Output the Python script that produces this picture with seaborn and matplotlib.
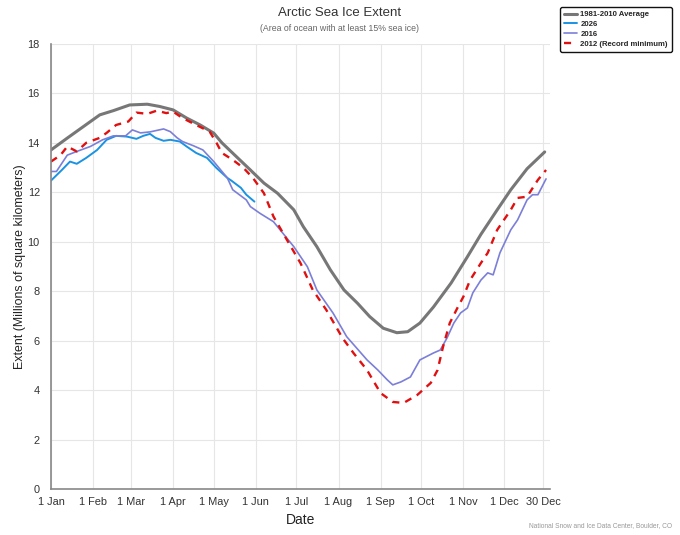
import matplotlib
matplotlib.use("Agg")
import matplotlib.pyplot as plt
import seaborn as sns
import pandas as pd

# ---- data (day of year, extent in million km^2) ----
avg_days = [0, 12, 24, 36, 46, 58, 71, 80, 90, 100, 110, 120, 126, 134, 147, 157, 167, 179, 186, 196, 206, 216, 226, 235, 245, 255, 263, 272, 282, 295, 307, 317, 329, 339, 351, 364]
avg_vals = [13.71, 14.19, 14.66, 15.13, 15.3, 15.53, 15.56, 15.47, 15.33, 15.0, 14.72, 14.39, 14.0, 13.58, 12.9, 12.37, 11.96, 11.29, 10.61, 9.8, 8.86, 8.05, 7.51, 6.97, 6.5, 6.32, 6.36, 6.71, 7.36, 8.33, 9.39, 10.3, 11.29, 12.1, 12.95, 13.63]

y2026_days = [0, 8, 14, 19, 26, 34, 41, 48, 56, 63, 68, 73, 77, 83, 88, 95, 100, 107, 115, 122, 130, 133, 140, 144, 150]
y2026_vals = [12.47, 12.9, 13.24, 13.15, 13.39, 13.71, 14.12, 14.28, 14.25, 14.16, 14.28, 14.36, 14.2, 14.08, 14.12, 14.05, 13.85, 13.59, 13.39, 12.98, 12.58, 12.47, 12.18, 11.9, 11.62]

y2016_days = [0, 4, 12, 19, 29, 38, 46, 55, 60, 66, 73, 83, 88, 93, 97, 105, 112, 120, 130, 134, 144, 147, 154, 164, 171, 179, 189, 196, 208, 218, 233, 241, 248, 252, 258, 265, 272, 282, 287, 292, 297, 302, 307, 311, 317, 322, 326, 331, 339, 344, 351, 355, 359, 365]
y2016_vals = [12.84, 12.84, 13.5, 13.65, 13.85, 14.12, 14.28, 14.28, 14.52, 14.4, 14.44, 14.56, 14.45, 14.2, 14.05, 13.88, 13.71, 13.24, 12.58, 12.1, 11.69, 11.42, 11.15, 10.81, 10.34, 9.8, 8.99, 8.05, 7.11, 6.16, 5.22, 4.81, 4.41, 4.21, 4.33, 4.53, 5.22, 5.5, 5.62, 6.11, 6.71, 7.12, 7.32, 7.93, 8.45, 8.74, 8.66, 9.55, 10.48, 10.88, 11.69, 11.9, 11.9, 12.54]

y2012_days = [0, 7, 12, 19, 26, 36, 41, 48, 57, 63, 71, 78, 85, 90, 97, 107, 117, 122, 126, 134, 142, 149, 157, 164, 174, 184, 193, 203, 215, 223, 233, 243, 252, 260, 270, 280, 285, 289, 294, 300, 304, 309, 317, 322, 329, 339, 344, 351, 359, 365]
y2012_vals = [13.24, 13.5, 13.85, 13.65, 14.0, 14.2, 14.4, 14.72, 14.86, 15.22, 15.17, 15.3, 15.2, 15.26, 15.0, 14.72, 14.45, 14.0, 13.59, 13.31, 12.98, 12.57, 11.96, 11.02, 10.07, 9.13, 8.05, 7.24, 6.1, 5.5, 4.81, 3.88, 3.52, 3.48, 3.8, 4.29, 4.81, 5.74, 6.71, 7.36, 7.77, 8.45, 9.14, 9.55, 10.48, 11.29, 11.77, 11.82, 12.5, 12.9]

tick_days = [0, 31, 59, 90, 120, 151, 181, 212, 243, 273, 304, 334, 363]
tick_labels = ["1 Jan", "1 Feb", "1 Mar", "1 Apr", "1 May", "1 Jun", "1 Jul",
               "1 Aug", "1 Sep", "1 Oct", "1 Nov", "1 Dec", "30 Dec"]
series_names = ["1981-2010 Average", "2026", "2016", "2012 (Record minimum)"]

sns.set_style("white")
plt.rcParams['font.family'] = ['Liberation Sans', 'DejaVu Sans']

fig = plt.figure(figsize=(6.8, 5.35), dpi=100)
ax = fig.add_axes([0.075, 0.086, 0.734, 0.832])

styles = [
    (avg_days, avg_vals, "#777777", 2.2, "-"),
    (y2026_days, y2026_vals, "#1a93e3", 1.4, "-"),
    (y2016_days, y2016_vals, "#7b7fd8", 1.2, "-"),
    (y2012_days, y2012_vals, "#e01010", 1.7, (0, (3.0, 2.6))),
]
for name, (d, v, c, lw, ls) in zip(series_names, styles):
    df = pd.DataFrame({"day": d, "extent": v})
    sns.lineplot(data=df, x="day", y="extent", ax=ax, color=c, linewidth=lw,
                 linestyle=ls, sort=False, label=name, legend=False)
for ln in ax.get_lines():
    ln.set_solid_joinstyle("round")
    ln.set_solid_capstyle("round")

ax.set_xlim(0, 368)
ax.set_ylim(0, 18)
ax.set_xticks(tick_days)
ax.set_xticklabels(tick_labels)
ax.set_yticks(range(0, 19, 2))
ax.grid(True, color="#e6e6e6", linewidth=0.8)
ax.set_axisbelow(True)
for s in ["top", "right"]:
    ax.spines[s].set_visible(False)
for s in ["left", "bottom"]:
    ax.spines[s].set_color("#888888")
    ax.spines[s].set_linewidth(1.2)
ax.tick_params(axis="x", length=4, color="#dddddd", labelsize=7.9, labelcolor="#333333", pad=2)
ax.tick_params(axis="y", length=0, labelsize=7.9, labelcolor="#333333", pad=8)
ax.set_xlabel("Date", fontsize=10, color="#222222", labelpad=4)
ax.set_ylabel("Extent (Millions of square kilometers)", fontsize=8.9, color="#222222", labelpad=1)

fig.text(0.5, 0.975, "Arctic Sea Ice Extent", ha="center", va="center", fontsize=9.5, color="#333333")
fig.text(0.5, 0.947, "(Area of ocean with at least 15% sea ice)", ha="center", va="center", fontsize=6.3, color="#666666")
fig.text(0.988, 0.012, "National Snow and Ice Data Center, Boulder, CO", ha="right", va="bottom", fontsize=4.8, color="#999999")

handles, labels = ax.get_legend_handles_labels()
leg = fig.legend(handles, labels, loc="upper right", bbox_to_anchor=(0.988, 0.987),
                 borderaxespad=0,
                 prop={"size": 5.6, "weight": "bold"}, frameon=True, fancybox=True,
                 edgecolor="#111111", framealpha=1, handlelength=1.6, handletextpad=0.5,
                 labelspacing=0.3, borderpad=0.5)
leg.get_frame().set_linewidth(1.0)

fig.savefig("out.png", dpi=100)
